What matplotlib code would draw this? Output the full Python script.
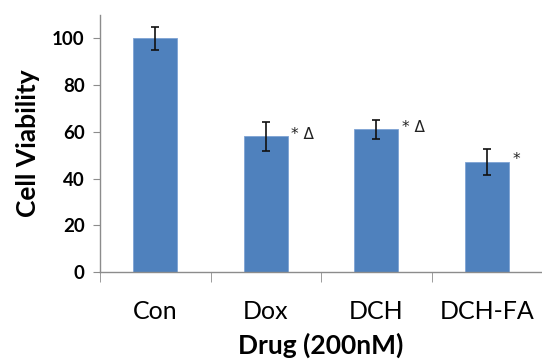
#!/usr/bin/env python3

import numpy as np
import matplotlib.pyplot as plt

plt.rcParams['font.family'] = ['Lato', 'DejaVu Sans']

drugs = ['Con', 'Dox', 'DCH', 'DCH-FA']
viability = [100, 58, 61, 47]
errors = [5, 6, 4.2, 5.5]
marks = ['', '* \u0394', '* \u0394', '*']

bar_color = '#4f81bd'
axis_color = '#8c8c8c'


def main():
    fig = plt.figure(figsize=(5.42, 3.62), dpi=100)
    ax = fig.add_axes([100/542, 90/362, 442/542, 257/362])

    x = np.arange(len(drugs))
    ax.bar(x, viability, width=0.4, color=bar_color,
           edgecolor='#7ea3d4', linewidth=0.6, zorder=2)
    ax.errorbar(x, viability, yerr=errors, fmt='none', ecolor='#111111',
                elinewidth=1.2, capsize=3, capthick=1.2, zorder=3)

    for xi, v, m in zip(x, viability, marks):
        if m:
            ax.text(xi + 0.23, v + 1, m, ha='left', va='center',
                    fontsize=11, color='#222222', family=['DejaVu Sans'])

    ax.set_xlim(-0.5, 3.464)
    ax.set_ylim(0, 110)
    ax.set_yticks(range(0, 101, 20))
    ax.set_yticklabels([str(t) for t in range(0, 101, 20)],
                       fontsize=13.5, fontweight='bold')

    ax.set_xticks(x)
    ax.set_xticklabels(drugs, fontsize=18)
    ax.set_xticks(np.arange(-0.5, 3.6, 1), minor=True)
    ax.tick_params(axis='x', which='major', length=0, pad=20)
    ax.tick_params(axis='x', which='minor', length=7, color=axis_color,
                   direction='out')
    ax.tick_params(axis='y', length=5, color=axis_color, direction='out',
                   pad=6)

    for side in ('top', 'right'):
        ax.spines[side].set_visible(False)
    for side in ('left', 'bottom'):
        ax.spines[side].set_color(axis_color)
        ax.spines[side].set_linewidth(1.0)

    ax.set_ylabel('Cell Viability', fontsize=19, fontweight='bold',
                  labelpad=9)
    ax.set_xlabel('Drug (200nM)', fontsize=19, fontweight='bold',
                  labelpad=7)

    fig.savefig('out.png', dpi=100)


main()
